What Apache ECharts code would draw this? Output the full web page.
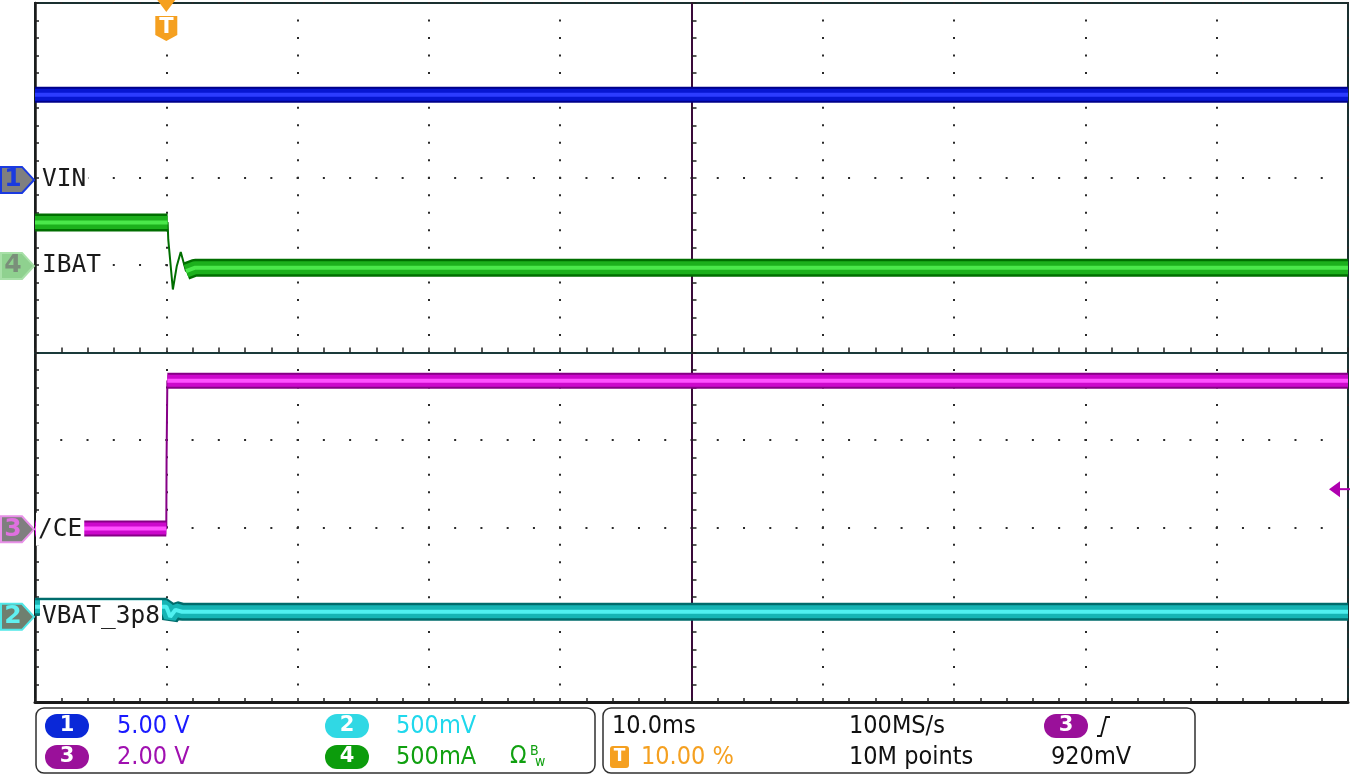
<!DOCTYPE html>
<html><head><meta charset="utf-8">
<script src="https://cdn.jsdelivr.net/npm/echarts@6/dist/echarts.min.js"></script>
<style>html,body{margin:0;padding:0;background:#fff}#c{width:1350px;height:775px}</style>
</head><body><div id="c"></div>
<script>
// ---- data (time in ms, trigger at 0) ----
const timeRange = [-10, 90];
const vinTime = [-10, 90];
const vinVolts = [4.88, 4.88];
const ibatTime = [-10, 0.1, 0.15, 0.5, 0.8, 1.1, 1.5, 2.2, 90];
const ibatAmps = [0.249, 0.249, 0.15, -0.135, 0.0, 0.08, -0.03, -0.01, -0.01];
const ceTime = [-10, 0.0, 0.02, 0.08, 90];
const ceVolts = [0.02, 0.02, 1.6, 3.4, 3.4];
const vbatTime = [-10, 0.0, 0.3, 0.7, 1.2, 90];
const vbatVolts = [3.857, 3.857, 3.80, 3.84, 3.829, 3.829];
const channelNames = ['VIN', 'VBAT_3p8', '/CE', 'IBAT'];
const channelScales = ['5.00 V', '500mV', '2.00 V', '500mA'];
const timebase = '10.0ms', sampleRate = '100MS/s', triggerPos = '10.00 %', recordLen = '10M points', triggerLevel = '920mV';

// channel vertical settings: volts (or amps) per division, offset, marker position (divisions from centre)
const ch = {
  1: {scale: 5, offset: 0, pos: 1.975},
  2: {scale: 0.5, offset: 3.8, pos: -3.025},
  3: {scale: 2, offset: 0, pos: -2.024},
  4: {scale: 0.5, offset: 0, pos: 0.991}
};
function chAxis(c) {
  const s = ch[c];
  return {type: 'value', show: false, min: s.offset + (-4 - s.pos) * s.scale, max: s.offset + (4 - s.pos) * s.scale,
    axisLine: {onZero: false}, splitLine: {show: false}};
}

const chart = echarts.init(document.getElementById('c'), null, {renderer: 'canvas'});
const GL = 35, GT = 3, GW = 1313, GH = 699;
const subX = GW / 50, subY = GH / 40;

const dotX = {show: true, lineStyle: {color: '#2a2a2a', width: 2, type: [2, subY - 2], dashOffset: 1}};
const dotY = {show: true, lineStyle: {color: '#2a2a2a', width: 2, type: [2, subX - 2], dashOffset: 1}};

const series = [];
function seg(time, vals, a, b) {
  const d = [];
  for (let i = a; i <= b; i++) d.push([time[i], vals[i]]);
  return d;
}
function band(yIdx, time, vals, ranges, cols, widths, z) {
  ranges.forEach(r => {
    const data = seg(time, vals, r[0], r[1]);
    widths.forEach((w, k) => {
      series.push({type: 'line', xAxisIndex: 3, yAxisIndex: yIdx, data, showSymbol: false, silent: true,
        animation: false, z: z + k * 0.1, lineStyle: {width: w, color: cols[k], cap: 'butt'}});
    });
  });
  series.push({type: 'line', xAxisIndex: 3, yAxisIndex: yIdx, data: seg(time, vals, 0, time.length - 1),
    showSymbol: false, silent: true, animation: false, z: z - 0.1, lineStyle: {width: 2, color: cols[0]}});
}
// yAxis indices: 3 -> ch1, 4 -> ch2, 5 -> ch3, 6 -> ch4
band(3, vinTime, vinVolts, [[0, 1]], ['#00008a', '#0616d2', '#2c3cff'], [16, 12, 4], 5);
band(6, ibatTime, ibatAmps, [[0, 1], [6, 8]], ['#006e00', '#1cb01c', '#4ae84a'], [18, 13, 4], 5);
band(5, ceTime, ceVolts, [[0, 1], [3, 4]], ['#860086', '#cc08cc', '#ff50ff'], [16, 12, 4], 5);
band(4, vbatTime, vbatVolts, [[0, 5]], ['#006c6c', '#16b4b4', '#50f0f0'], [18, 13, 4], 5);

const tickSty = {color: '#222', width: 1.5};
const option = {
  animation: false,
  backgroundColor: '#fff',
  grid: {left: GL, top: GT, width: GW, height: GH, show: true, borderColor: '#1a3030', borderWidth: 2, backgroundColor: '#fff'},
  xAxis: [
    {type: 'value', min: -5, max: 5, interval: 1, splitLine: dotX,
      axisLine: {show: true, onZero: true, onZeroAxisIndex: 0, lineStyle: {color: '#1a3a3a', width: 2}},
      axisTick: {show: true, inside: true, length: 5, lineStyle: tickSty},
      minorTick: {show: true, splitNumber: 5, length: 5, lineStyle: tickSty},
      axisLabel: {show: false}},
    {type: 'value', min: -5, max: 5, interval: 1, splitLine: {show: false},
      axisLine: {show: false, onZero: true, onZeroAxisIndex: 1},
      axisTick: {show: true, inside: false, length: 5, lineStyle: tickSty},
      minorTick: {show: true, splitNumber: 5, length: 5, lineStyle: tickSty},
      axisLabel: {show: false}},
    {type: 'value', min: -5, max: 5, interval: 1, position: 'bottom', splitLine: {show: false},
      axisLine: {show: true, onZero: false, lineStyle: {color: '#1a1a1a', width: 3}},
      axisTick: {show: true, inside: true, length: 4, lineStyle: tickSty},
      minorTick: {show: true, splitNumber: 5, length: 4, lineStyle: tickSty},
      axisLabel: {show: false}},
    {type: 'value', show: false, min: timeRange[0], max: timeRange[1], axisLine: {onZero: false}, splitLine: {show: false}}
  ],
  yAxis: [
    {type: 'value', min: -4, max: 4, interval: 1, splitLine: dotY,
      axisLine: {show: true, onZero: true, onZeroAxisIndex: 0, lineStyle: {color: '#3a0a3a', width: 2}},
      axisTick: {show: true, inside: true, length: 5, lineStyle: tickSty},
      minorTick: {show: true, splitNumber: 5, length: 5, lineStyle: tickSty},
      axisLabel: {show: false}},
    {type: 'value', min: -4, max: 4, interval: 1, splitLine: {show: false},
      axisLine: {show: false, onZero: true, onZeroAxisIndex: 1},
      axisTick: {show: true, inside: false, length: 5, lineStyle: tickSty},
      minorTick: {show: true, splitNumber: 5, length: 5, lineStyle: tickSty},
      axisLabel: {show: false}},
    {type: 'value', min: -4, max: 4, interval: 1, position: 'left', splitLine: {show: false},
      axisLine: {show: true, onZero: false, lineStyle: {color: '#1a1a1a', width: 2.5}},
      axisTick: {show: true, inside: true, length: 4, lineStyle: tickSty},
      minorTick: {show: true, splitNumber: 5, length: 4, lineStyle: tickSty},
      axisLabel: {show: false}},
    chAxis(1), chAxis(2), chAxis(3), chAxis(4)
  ],
  series: series
};
chart.setOption(option);

// ---- decorations (scope overlays) ----
function yOf(c) { return chart.convertToPixel({yAxisIndex: 0}, ch[c].pos); }
const xTrig = chart.convertToPixel({xAxisIndex: 3}, 0);
const LBL = "'DejaVu Sans Mono', monospace";
const PNL = "'DejaVu Sans Condensed', 'DejaVu Sans', sans-serif";
const g = [];
function marker(c, fill, stroke, numColor) {
  const cy = yOf(c);
  g.push({type: 'polygon', z: 200, shape: {points: [[1, cy - 13], [22, cy - 13], [34, cy], [22, cy + 13], [1, cy + 13]]},
    style: {fill, stroke, lineWidth: 2}});
  g.push({type: 'text', z: 201, x: 13, y: cy, style: {text: String(c), fill: numColor, font: "bold 25px 'DejaVu Sans'", align: 'center', verticalAlign: 'middle'}});
}
marker(1, '#7f7f7f', '#1a3ae0', '#1a3ae0');
marker(4, '#8fd18f', '#a8e0a8', '#7a8f7a');
marker(3, '#7f7f7f', '#e890e8', '#e070e0');
marker(2, '#6f7f6f', '#50e8e8', '#60f0f0');
function label(c, txt, x) {
  g.push({type: 'text', z: 150, x, y: yOf(c), style: {text: txt, fill: '#1a1a1a', font: '24.5px ' + LBL,
    verticalAlign: 'middle', backgroundColor: '#fff', padding: [4, 2, 4, 2]}});
}
label(1, channelNames[0], 40);
label(4, channelNames[3], 40);
label(3, channelNames[2], 36);
label(2, channelNames[1], 40);

// trigger marker
g.push({type: 'polygon', z: 200, shape: {points: [[xTrig - 9, 0], [xTrig + 9, 0], [xTrig, 12]]}, style: {fill: '#f5a020'}});
g.push({type: 'polygon', z: 200, shape: {points: [[xTrig - 11, 16], [xTrig + 11, 16], [xTrig + 11, 35], [xTrig, 41], [xTrig - 11, 35]]}, style: {fill: '#f5a020'}});
g.push({type: 'text', z: 201, x: xTrig, y: 28, style: {text: 'T', fill: '#fff', font: "bold 21px 'DejaVu Sans'", align: 'center', verticalAlign: 'middle'}});
// trigger level arrow (right)
const yLev = chart.convertToPixel({yAxisIndex: 5}, 0.92);
g.push({type: 'polygon', z: 200, shape: {points: [[1329, yLev], [1340, yLev - 8], [1340, yLev + 8]]}, style: {fill: '#b000b0'}});
g.push({type: 'line', z: 200, shape: {x1: 1338, y1: yLev, x2: 1350, y2: yLev}, style: {stroke: '#b000b0', lineWidth: 2}});

// info panels
g.push({type: 'rect', z: 100, shape: {x: 36, y: 708, width: 559, height: 65, r: 8}, style: {fill: '#fff', stroke: '#303030', lineWidth: 1.5}});
g.push({type: 'rect', z: 100, shape: {x: 603, y: 708, width: 592, height: 65, r: 8}, style: {fill: '#fff', stroke: '#303030', lineWidth: 1.5}});
function pill(x, y, txt, col) {
  g.push({type: 'rect', z: 101, shape: {x, y, width: 44, height: 24, r: 12}, style: {fill: col}});
  g.push({type: 'text', z: 102, x: x + 22, y: y + 12, style: {text: txt, fill: '#fff', font: "bold 21px 'DejaVu Sans'", align: 'center', verticalAlign: 'middle'}});
}
function ptxt(x, y, txt, col) {
  g.push({type: 'text', z: 102, x, y, style: {text: txt, fill: col, font: '25px ' + PNL, verticalAlign: 'middle'}});
}
const R1 = 726, R2 = 757;
pill(45, 714, '1', '#0a28d8'); ptxt(117, R1, channelScales[0], '#1a1aff');
pill(325, 714, '2', '#30d8e4'); ptxt(396, R1, channelScales[1], '#20d8ec');
pill(45, 745, '3', '#9a109a'); ptxt(117, R2, channelScales[2], '#a010b0');
pill(325, 745, '4', '#0c9c0c'); ptxt(396, R2, channelScales[3], '#10a010');
g.push({type: 'text', z: 102, x: 510, y: R2, style: {text: 'Ω', fill: '#10a010', font: '24px ' + PNL, verticalAlign: 'middle'}});
g.push({type: 'text', z: 102, x: 530, y: R2 - 6, style: {text: 'B', fill: '#10a010', font: '14px ' + PNL, verticalAlign: 'middle'}});
g.push({type: 'text', z: 102, x: 535, y: R2 + 5, style: {text: 'w', fill: '#10a010', font: '14px ' + PNL, verticalAlign: 'middle'}});

ptxt(612, R1, timebase, '#111');
ptxt(849, R1, sampleRate, '#111');
pill(1044, 714, '3', '#9a109a');
g.push({type: 'polyline', z: 102, shape: {points: [[1097, 736], [1101, 736], [1106, 717], [1110, 717]]}, style: {stroke: '#111', lineWidth: 1.8, fill: null}});
g.push({type: 'rect', z: 101, shape: {x: 610, y: 746, width: 19, height: 22, r: 3}, style: {fill: '#f5a020'}});
g.push({type: 'text', z: 102, x: 619.5, y: 757, style: {text: 'T', fill: '#fff', font: "bold 17px 'DejaVu Sans'", align: 'center', verticalAlign: 'middle'}});
ptxt(641, R2, triggerPos, '#f5a020');
ptxt(849, R2, recordLen, '#111');
ptxt(1051, R2, triggerLevel, '#111');

chart.setOption({graphic: {elements: g}});
</script></body></html>
